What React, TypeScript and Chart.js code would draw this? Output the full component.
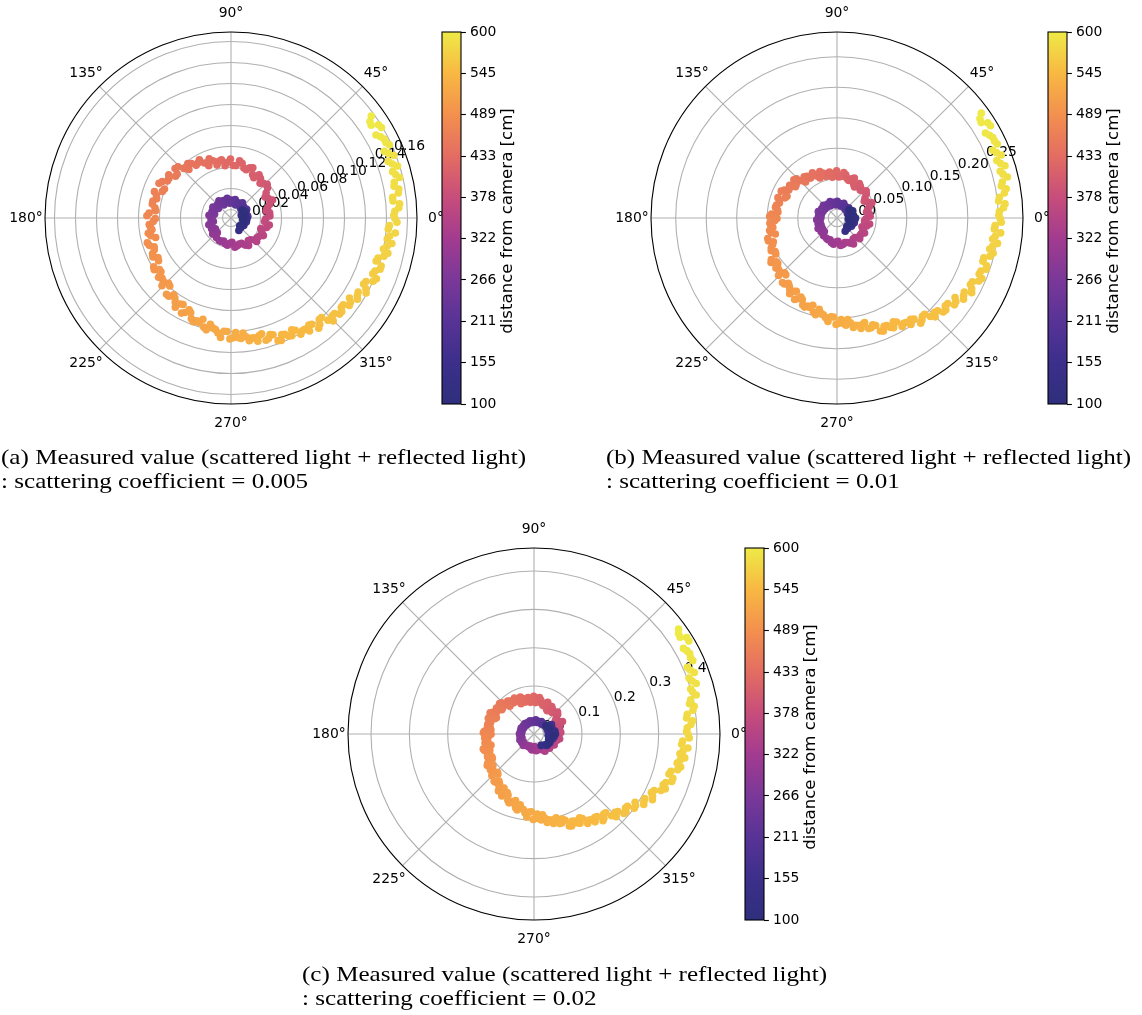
import React, { useEffect, useLayoutEffect, useRef } from "react";
import { Chart, registerables } from "chart.js";

Chart.register(...registerables);

const SANS = '"DejaVu Sans", Verdana, sans-serif';
const SERIF = '"Liberation Serif", "Times New Roman", serif';

// ---- data: angle / distance of each measured point (shared by the panels), radius per panel ----
const angleDeg = [
  36, 33.5, 31, 28.5, 26, 23.5, 21, 18.5, 16, 13.5,
  11, 8.5, 6, 3.5, 1, 358.5, 356, 353.5, 351, 348.5,
  346, 343.5, 341, 338.5, 336, 333.5, 331, 328.5, 326, 323.5,
  321, 318.5, 316, 313.5, 311, 308.5, 306, 303.5, 301, 298.5,
  296, 293.5, 291, 288.5, 286, 283.5, 281, 278.5, 276, 273.5,
  271, 268, 265, 262, 259, 256, 253, 250, 247, 244,
  241, 238, 235, 231.5, 228, 224.5, 221, 217.5, 214, 210.5,
  206.5, 202.5, 198.5, 194.5, 190.5, 186.5, 182.5, 178.5, 174.5, 170,
  165.5, 161, 156.5, 152, 147.5, 143, 138.5, 133.5, 128.5, 123.5,
  118.5, 113, 107.5, 102, 96.5, 90.5, 84.5, 78.5, 72.5, 66.5,
  60.5, 53.5, 46.5, 39.5, 31.5, 23.5, 15.5, 7.5, 358.5, 349.5,
  340.5, 331.5, 322.5, 312.5, 302.5, 292.5, 282.5, 272.5, 262.5, 252.5, 242.5,
  233, 221, 209, 197, 185, 173, 161, 149, 137, 125,
  113, 101, 89, 77, 65, 53, 41, 29, 17, 5,
  20, 345, 30, 330, 8, 315, 25, 352, 302, 15, 338, 0, 323, 35, 355,
];

const distanceCm = [
  600, 599, 597, 596, 594, 593, 591, 590, 589, 587,
  586, 584, 583, 582, 580, 579, 577, 576, 574, 573,
  572, 570, 569, 567, 566, 564, 563, 562, 560, 559,
  557, 556, 554, 553, 552, 550, 549, 547, 546, 545,
  543, 542, 540, 539, 537, 536, 535, 533, 532, 530,
  529, 527, 526, 524, 522, 520, 519, 517, 515, 514,
  512, 510, 508, 506, 504, 502, 500, 498, 496, 494,
  492, 490, 488, 485, 483, 481, 478, 476, 474, 471,
  469, 466, 464, 461, 459, 456, 453, 451, 448, 445,
  442, 439, 436, 433, 430, 426, 423, 419, 416, 413,
  409, 405, 401, 397, 393, 388, 384, 379, 374, 369,
  364, 359, 353, 348, 342, 336, 331, 325, 319, 314, 308,
  303, 297, 291, 285, 279, 273, 267, 261, 255, 249,
  243, 237, 231, 225, 219, 213, 207, 201, 195, 189,
  184, 178, 172, 166, 160, 154, 148, 142, 136, 130, 124, 118, 112, 106, 100,
];

const radiusA = [
  0.157, 0.152, 0.159, 0.154, 0.156, 0.151, 0.158, 0.154, 0.152, 0.157,
  0.150, 0.153, 0.147, 0.152, 0.147, 0.150, 0.142, 0.144, 0.147, 0.140,
  0.142, 0.136, 0.142, 0.137, 0.140, 0.133, 0.139, 0.133, 0.128, 0.132,
  0.127, 0.130, 0.126, 0.126, 0.120, 0.126, 0.118, 0.119, 0.121, 0.113,
  0.117, 0.113, 0.117, 0.109, 0.113, 0.107, 0.108, 0.110, 0.102, 0.106,
  0.106, 0.100, 0.106, 0.099, 0.095, 0.099, 0.096, 0.097, 0.090, 0.092,
  0.086, 0.092, 0.085, 0.087, 0.079, 0.084, 0.079, 0.076, 0.080, 0.072,
  0.075, 0.071, 0.074, 0.066, 0.072, 0.069, 0.066, 0.072, 0.064, 0.068,
  0.065, 0.069, 0.061, 0.066, 0.062, 0.058, 0.063, 0.057, 0.058, 0.052,
  0.055, 0.046, 0.049, 0.047, 0.042, 0.048, 0.042, 0.045, 0.040, 0.044,
  0.036, 0.039, 0.037, 0.037, 0.030, 0.035, 0.028, 0.029, 0.025, 0.029,
  0.022, 0.027, 0.023, 0.020, 0.023, 0.018, 0.019, 0.015, 0.018, 0.015, 0.016,
  0.015, 0.015, 0.013, 0.014, 0.011, 0.013, 0.011, 0.012, 0.010, 0.012,
  0.010, 0.011, 0.009, 0.010, 0.008, 0.010, 0.008, 0.009, 0.007, 0.008,
  0.005, 0.007, 0.004, 0.006, 0.003, 0.005, 0.007, 0.004, 0.006, 0.002, 0.005, 0.006, 0.004, 0.005, 0.003,
];

const radiusB = [
  0.278, 0.269, 0.279, 0.270, 0.273, 0.264, 0.274, 0.268, 0.264, 0.273,
  0.260, 0.263, 0.252, 0.259, 0.251, 0.255, 0.244, 0.247, 0.252, 0.241,
  0.244, 0.235, 0.244, 0.236, 0.240, 0.230, 0.238, 0.229, 0.219, 0.225,
  0.214, 0.218, 0.208, 0.208, 0.199, 0.206, 0.191, 0.191, 0.193, 0.179,
  0.185, 0.179, 0.184, 0.170, 0.174, 0.165, 0.165, 0.167, 0.153, 0.159,
  0.158, 0.148, 0.156, 0.146, 0.138, 0.145, 0.139, 0.141, 0.131, 0.133,
  0.123, 0.132, 0.122, 0.124, 0.111, 0.120, 0.113, 0.108, 0.116, 0.102,
  0.106, 0.100, 0.104, 0.090, 0.098, 0.093, 0.088, 0.096, 0.083, 0.088,
  0.083, 0.088, 0.075, 0.083, 0.078, 0.071, 0.080, 0.070, 0.072, 0.064,
  0.070, 0.057, 0.063, 0.060, 0.053, 0.063, 0.054, 0.058, 0.050, 0.057,
  0.044, 0.050, 0.047, 0.048, 0.038, 0.048, 0.038, 0.039, 0.033, 0.040,
  0.029, 0.037, 0.033, 0.029, 0.036, 0.029, 0.030, 0.024, 0.029, 0.023, 0.023,
  0.022, 0.020, 0.021, 0.018, 0.019, 0.016, 0.018, 0.015, 0.016, 0.013,
  0.015, 0.012, 0.013, 0.010, 0.012, 0.009, 0.011, 0.008, 0.009, 0.007,
  0.012, 0.015, 0.008, 0.013, 0.006, 0.010, 0.014, 0.009, 0.011, 0.005, 0.012, 0.016, 0.007, 0.010, 0.004,
];

const radiusC = [
  0.441, 0.432, 0.446, 0.429, 0.429, 0.411, 0.423, 0.410, 0.400, 0.410,
  0.388, 0.394, 0.375, 0.385, 0.373, 0.380, 0.361, 0.366, 0.373, 0.356,
  0.361, 0.342, 0.355, 0.337, 0.337, 0.317, 0.328, 0.311, 0.293, 0.300,
  0.282, 0.288, 0.269, 0.269, 0.252, 0.264, 0.244, 0.243, 0.247, 0.224,
  0.233, 0.223, 0.232, 0.209, 0.218, 0.204, 0.204, 0.208, 0.187, 0.196,
  0.195, 0.178, 0.192, 0.174, 0.163, 0.173, 0.163, 0.166, 0.148, 0.152,
  0.136, 0.150, 0.132, 0.136, 0.116, 0.129, 0.118, 0.110, 0.122, 0.101,
  0.110, 0.101, 0.111, 0.091, 0.105, 0.099, 0.093, 0.107, 0.088, 0.098,
  0.092, 0.101, 0.082, 0.096, 0.090, 0.080, 0.095, 0.080, 0.085, 0.072,
  0.082, 0.061, 0.072, 0.067, 0.058, 0.073, 0.059, 0.065, 0.053, 0.065,
  0.045, 0.056, 0.052, 0.055, 0.040, 0.056, 0.041, 0.043, 0.033, 0.043,
  0.025, 0.035, 0.027, 0.018, 0.028, 0.014, 0.018, 0.008, 0.017, 0.008, 0.010,
  0.012, 0.010, 0.011, 0.008, 0.009, 0.007, 0.008, 0.006, 0.007, 0.005,
  0.007, 0.005, 0.008, 0.006, 0.009, 0.007, 0.010, 0.012, 0.011, 0.013,
  0.020, 0.025, 0.012, 0.022, 0.030, 0.015, 0.018, 0.028, 0.010, 0.024, 0.016, 0.031, 0.019, 0.013, 0.026,
];

// second pass of points read between the ones above (fills the band)
const angleDeg2 = [
  34.8, 32.3, 29.8, 27.3, 24.8, 22.3, 19.8, 17.3, 14.8, 12.3,
  9.8, 7.3, 4.8, 2.3, 359.8, 357.3, 354.8, 352.3, 349.8, 347.3,
  344.8, 342.3, 339.8, 337.3, 334.8, 332.3, 329.8, 327.3, 324.8, 322.3,
  319.8, 317.3, 314.8, 312.3, 309.8, 307.3, 304.8, 302.3, 299.8, 297.3,
  294.8, 292.3, 289.8, 287.3, 284.8, 282.3, 279.8, 277.3, 274.8, 272.3,
  269.5, 266.5, 263.5, 260.5, 257.5, 254.5, 251.5, 248.5, 245.5, 242.5,
  239.5, 236.5, 233.3, 229.8, 226.3, 222.8, 219.3, 215.8, 212.3, 208.5,
  204.5, 200.5, 196.5, 192.5, 188.5, 184.5, 180.5, 176.5, 172.3, 167.8,
  163.3, 158.8, 154.3, 149.8, 145.3, 140.8, 136, 131, 126, 121,
  115.8, 110.3, 104.8, 99.3, 93.5, 87.5, 81.5, 75.5, 69.5, 63.5,
  57, 50, 43, 35.5, 27.5, 19.5, 11.5, 3, 354, 345,
  336, 327, 317.5, 307.5, 297.5, 287.5, 277.5, 267.5, 257.5, 247.5,
  227, 215, 203, 191, 179, 167, 155, 143, 131, 119, 107, 95, 83, 71, 59, 47, 35, 23, 11,
  10, 340, 28, 318, 355, 5, 335, 22,
];

const distanceCm2 = [
  599.5, 598, 596.5, 595, 593.5, 592, 590.5, 589.5, 588, 586.5,
  585, 583.5, 582.5, 581, 579.5, 578, 576.5, 575, 573.5, 572.5,
  571, 569.5, 568, 566.5, 565, 563.5, 562.5, 561, 559.5, 558,
  556.5, 555, 553.5, 552.5, 551, 549.5, 548, 546.5, 545.5, 544,
  542.5, 541, 539.5, 538, 536.5, 535.5, 534, 532.5, 531, 529.5,
  528, 526.5, 525, 523, 521, 519.5, 518, 516, 514.5, 513,
  511, 509, 507, 505, 503, 501, 499, 497, 495, 493,
  491, 489, 486.5, 484, 482, 479.5, 477, 475, 472.5, 470,
  467.5, 465, 462.5, 460, 457.5, 454.5, 452, 449.5, 446.5, 443.5,
  440.5, 437.5, 434.5, 431.5, 428, 424.5, 421, 417.5, 414.5, 411,
  407, 403, 399, 395, 390.5, 386, 381.5, 376.5, 371.5, 366.5,
  361.5, 356, 350.5, 345, 339, 333.5, 328, 322, 316.5, 311,
  300, 294, 288, 282, 276, 270, 264, 258, 252, 246, 240, 234, 228, 222, 216, 210, 204, 198, 192,
  181, 169, 157, 145, 133, 121, 109, 103,
];

const radiusA2 = [
  0.153, 0.158, 0.151, 0.156, 0.158, 0.154, 0.151, 0.158, 0.154, 0.151,
  0.154, 0.147, 0.153, 0.148, 0.148, 0.143, 0.149, 0.142, 0.143, 0.145,
  0.137, 0.142, 0.138, 0.142, 0.134, 0.137, 0.132, 0.135, 0.131, 0.127,
  0.130, 0.126, 0.130, 0.120, 0.124, 0.119, 0.123, 0.119, 0.115, 0.118,
  0.114, 0.118, 0.110, 0.112, 0.106, 0.112, 0.108, 0.106, 0.107, 0.101,
  0.107, 0.100, 0.102, 0.098, 0.101, 0.092, 0.095, 0.095, 0.088, 0.094,
  0.087, 0.088, 0.083, 0.087, 0.078, 0.080, 0.081, 0.076, 0.079, 0.071,
  0.074, 0.070, 0.075, 0.070, 0.068, 0.070, 0.064, 0.070, 0.065, 0.068,
  0.066, 0.062, 0.068, 0.062, 0.064, 0.058, 0.062, 0.053, 0.056, 0.053,
  0.050, 0.052, 0.044, 0.048, 0.045, 0.042, 0.047, 0.041, 0.043, 0.038,
  0.041, 0.035, 0.039, 0.033, 0.032, 0.031, 0.026, 0.029, 0.024, 0.027,
  0.024, 0.024, 0.025, 0.019, 0.021, 0.018, 0.020, 0.016, 0.017, 0.016,
  0.011, 0.010, 0.012, 0.009, 0.010, 0.008, 0.009, 0.007, 0.008, 0.006, 0.008, 0.006, 0.007, 0.005, 0.007, 0.005, 0.006, 0.004, 0.005,
  0.006, 0.004, 0.006, 0.003, 0.007, 0.004, 0.005, 0.006,
];

const radiusB2 = [
  0.271, 0.278, 0.266, 0.273, 0.275, 0.268, 0.264, 0.274, 0.267, 0.263,
  0.267, 0.254, 0.262, 0.252, 0.253, 0.245, 0.255, 0.243, 0.245, 0.248,
  0.235, 0.243, 0.237, 0.243, 0.231, 0.235, 0.227, 0.232, 0.224, 0.215,
  0.219, 0.210, 0.214, 0.199, 0.203, 0.194, 0.198, 0.190, 0.182, 0.188,
  0.180, 0.186, 0.173, 0.174, 0.163, 0.171, 0.164, 0.159, 0.162, 0.152,
  0.160, 0.148, 0.150, 0.144, 0.148, 0.134, 0.138, 0.139, 0.128, 0.136,
  0.125, 0.126, 0.119, 0.124, 0.110, 0.114, 0.115, 0.108, 0.113, 0.101,
  0.104, 0.097, 0.104, 0.096, 0.092, 0.096, 0.084, 0.093, 0.084, 0.087,
  0.084, 0.077, 0.087, 0.077, 0.080, 0.072, 0.078, 0.064, 0.070, 0.066,
  0.062, 0.067, 0.056, 0.062, 0.058, 0.053, 0.061, 0.052, 0.054, 0.047,
  0.053, 0.045, 0.051, 0.042, 0.042, 0.042, 0.035, 0.040, 0.031, 0.036,
  0.032, 0.033, 0.036, 0.029, 0.032, 0.028, 0.031, 0.025, 0.027, 0.024,
  0.016, 0.015, 0.014, 0.014, 0.012, 0.012, 0.011, 0.010, 0.010, 0.008, 0.009, 0.007, 0.008, 0.006, 0.007, 0.005, 0.006, 0.004, 0.005,
  0.009, 0.013, 0.011, 0.007, 0.015, 0.011, 0.008, 0.013,
];

const radiusC2 = [
  0.434, 0.446, 0.424, 0.432, 0.431, 0.415, 0.405, 0.418, 0.403, 0.393,
  0.399, 0.378, 0.390, 0.375, 0.377, 0.363, 0.378, 0.359, 0.362, 0.367,
  0.345, 0.355, 0.341, 0.346, 0.321, 0.324, 0.309, 0.315, 0.299, 0.283,
  0.289, 0.273, 0.279, 0.253, 0.260, 0.246, 0.254, 0.241, 0.229, 0.237,
  0.225, 0.234, 0.214, 0.218, 0.201, 0.214, 0.202, 0.196, 0.200, 0.184,
  0.198, 0.179, 0.182, 0.172, 0.178, 0.155, 0.161, 0.161, 0.143, 0.157,
  0.139, 0.140, 0.128, 0.136, 0.113, 0.120, 0.122, 0.111, 0.118, 0.100,
  0.108, 0.098, 0.113, 0.101, 0.097, 0.104, 0.087, 0.104, 0.090, 0.098,
  0.094, 0.085, 0.102, 0.088, 0.094, 0.081, 0.092, 0.071, 0.081, 0.076,
  0.070, 0.078, 0.061, 0.071, 0.064, 0.057, 0.071, 0.057, 0.060, 0.048,
  0.060, 0.048, 0.059, 0.046, 0.047, 0.047, 0.037, 0.045, 0.029, 0.037,
  0.029, 0.028, 0.030, 0.016, 0.021, 0.013, 0.019, 0.010, 0.014, 0.011,
  0.016, 0.014, 0.015, 0.012, 0.013, 0.011, 0.012, 0.010, 0.011, 0.009, 0.011, 0.009, 0.012, 0.010, 0.013, 0.011, 0.014, 0.015, 0.016,
  0.022, 0.017, 0.027, 0.020, 0.012, 0.028, 0.021, 0.016,
];

// ---- axes / ticks ----
const thetaTickDeg = [0, 45, 90, 135, 180, 225, 270, 315];
const thetaTickLabels = ["0°", "45°", "90°", "135°", "180°", "225°", "270°", "315°"];

const rTicksA = [0, 0.02, 0.04, 0.06, 0.08, 0.1, 0.12, 0.14, 0.16];
const rTickLabelsA = ["0.00", "0.02", "0.04", "0.06", "0.08", "0.10", "0.12", "0.14", "0.16"];
const rTicksB = [0, 0.05, 0.1, 0.15, 0.2, 0.25];
const rTickLabelsB = ["0.00", "0.05", "0.10", "0.15", "0.20", "0.25"];
const rTicksC = [0, 0.1, 0.2, 0.3, 0.4];
const rTickLabelsC = ["0.0", "0.1", "0.2", "0.3", "0.4"];
const rLimitsA = [-0.0081, 0.169];
const rLimitsB = [-0.0144, 0.2905];
const rLimitsC = [-0.025, 0.46];

const colorbarRange = [100, 600];
const colorbarTicks = [100, 155.56, 211.11, 266.67, 322.22, 377.78, 433.33, 488.89, 544.44, 600];
const colorbarTickLabels = ["100", "155", "211", "266", "322", "378", "433", "489", "545", "600"];
const colorbarTitle = "distance from camera [cm]";

const captionA = ["(a) Measured value (scattered light + reflected light)", ": scattering coefficient = 0.005"];
const captionB = ["(b) Measured value (scattered light + reflected light)", ": scattering coefficient = 0.01"];
const captionC = ["(c) Measured value (scattered light + reflected light)", ": scattering coefficient = 0.02"];

// ---- style ----
const cmapStops: [number, string][] = [
  [0.0, "#2e2f7c"],
  [0.111, "#3c2f8b"],
  [0.222, "#573396"],
  [0.333, "#7a3899"],
  [0.444, "#a23b90"],
  [0.556, "#c74d7b"],
  [0.667, "#e36d62"],
  [0.778, "#f3904e"],
  [0.889, "#f8b842"],
  [1.0, "#eeea47"],
];

function hexRgb(h: string) {
  const n = parseInt(h.slice(1), 16);
  return [(n >> 16) & 255, (n >> 8) & 255, n & 255];
}
function cmap(t: number) {
  t = Math.max(0, Math.min(1, t));
  for (let i = 1; i < cmapStops.length; i++) {
    const [t1, c1] = cmapStops[i];
    const [t0, c0] = cmapStops[i - 1];
    if (t <= t1) {
      const f = (t - t0) / (t1 - t0);
      const a = hexRgb(c0), b = hexRgb(c1);
      const c = a.map((v, k) => Math.round(v + (b[k] - v) * f));
      return `rgb(${c[0]},${c[1]},${c[2]})`;
    }
  }
  return cmapStops[cmapStops.length - 1][1];
}

const R = 186;
const HALF = 232;
const CAPTION_WIDTH = 525;
const DOT_RADIUS = 3.8;

const PANELS = [
  { cx: 231, cy: 218, radius: radiusA, radius2: radiusA2, lim: rLimitsA, ticks: rTicksA, labels: rTickLabelsA, caption: captionA, capLeft: 1, capTop: 445 },
  { cx: 837, cy: 218, radius: radiusB, radius2: radiusB2, lim: rLimitsB, ticks: rTicksB, labels: rTickLabelsB, caption: captionB, capLeft: 606, capTop: 445 },
  { cx: 534, cy: 734, radius: radiusC, radius2: radiusC2, lim: rLimitsC, ticks: rTicksC, labels: rTickLabelsC, caption: captionC, capLeft: 302, capTop: 962 },
];

const polarAxesPlugin = {
  id: "polarAxes",
  beforeDatasetsDraw(chart: any, _args: any, opts: any) {
    const { ctx } = chart;
    const xs = chart.scales.x, ys = chart.scales.y;
    const rmin = opts.rmin, rmax = opts.rmax;
    const span = rmax - rmin;
    const cx = xs.getPixelForValue(0), cy = ys.getPixelForValue(0);
    const rad = (v: number) => xs.getPixelForValue(v - rmin) - cx;
    ctx.save();
    ctx.strokeStyle = "#b0b0b0";
    ctx.lineWidth = 1.1;
    opts.ticks.forEach((v: number) => {
      ctx.beginPath();
      ctx.arc(cx, cy, rad(v), 0, Math.PI * 2);
      ctx.stroke();
    });
    thetaTickDeg.forEach((d) => {
      const a = (d * Math.PI) / 180;
      ctx.beginPath();
      ctx.moveTo(cx, cy);
      ctx.lineTo(xs.getPixelForValue(span * Math.cos(a)), ys.getPixelForValue(span * Math.sin(a)));
      ctx.stroke();
    });
    const Rp = rad(rmax);
    ctx.fillStyle = "#000";
    ctx.font = `13.9px ${SANS}`;
    ctx.textAlign = "center";
    ctx.textBaseline = "middle";
    thetaTickDeg.forEach((d, i) => {
      const a = (d * Math.PI) / 180;
      ctx.fillText(thetaTickLabels[i], cx + (Rp + 19) * Math.cos(a), cy - (Rp + 19) * Math.sin(a));
    });
    ctx.textAlign = "left";
    ctx.textBaseline = "alphabetic";
    const la = (22.5 * Math.PI) / 180;
    opts.ticks.forEach((v: number, i: number) => {
      const r = rad(v);
      ctx.fillText(opts.labels[i], cx + r * Math.cos(la), cy - r * Math.sin(la));
    });
    ctx.restore();
  },
  afterDatasetsDraw(chart: any, _args: any, opts: any) {
    const { ctx } = chart;
    const xs = chart.scales.x, ys = chart.scales.y;
    const cx = xs.getPixelForValue(0), cy = ys.getPixelForValue(0);
    const Rp = xs.getPixelForValue(opts.rmax - opts.rmin) - cx;
    ctx.save();
    ctx.strokeStyle = "#000";
    ctx.lineWidth = 1.1;
    ctx.beginPath();
    ctx.arc(cx, cy, Rp, 0, Math.PI * 2);
    ctx.stroke();
    ctx.restore();
  },
};

const colorbarPlugin = {
  id: "cbar",
  beforeDatasetsDraw(chart: any) {
    const { ctx, chartArea: a } = chart;
    const ys = chart.scales.y;
    const g = ctx.createLinearGradient(0, ys.getPixelForValue(colorbarRange[0]), 0, ys.getPixelForValue(colorbarRange[1]));
    cmapStops.forEach(([t, c]) => g.addColorStop(t, c));
    ctx.save();
    ctx.fillStyle = g;
    ctx.fillRect(a.left, a.top, a.right - a.left, a.bottom - a.top);
    ctx.strokeStyle = "#000";
    ctx.lineWidth = 1.1;
    ctx.strokeRect(a.left, a.top, a.right - a.left, a.bottom - a.top);
    ctx.restore();
  },
  afterDraw(chart: any) {
    const { ctx, chartArea: a } = chart;
    ctx.save();
    ctx.translate(a.right + 47, (a.top + a.bottom) / 2 + 3);
    ctx.rotate(-Math.PI / 2);
    ctx.fillStyle = "#000";
    ctx.font = `16.6px ${SANS}`;
    ctx.textAlign = "center";
    ctx.textBaseline = "middle";
    ctx.fillText(colorbarTitle, 0, 0);
    ctx.restore();
  },
};

function makePolar(canvas: HTMLCanvasElement, p: any) {
  const [rmin, rmax] = p.lim;
  const span = rmax - rmin;
  const all: { a: number; d: number; r: number }[] = [];
  const n1 = Math.min(angleDeg.length, distanceCm.length, p.radius.length);
  for (let i = 0; i < n1; i++) all.push({ a: angleDeg[i], d: distanceCm[i], r: p.radius[i] });
  const n2 = Math.min(angleDeg2.length, distanceCm2.length, p.radius2.length);
  for (let i = 0; i < n2; i++) all.push({ a: angleDeg2[i], d: distanceCm2[i], r: p.radius2[i] });
  all.sort((u, v) => v.d - u.d);
  const pts = all.map((q) => {
    const rho = q.r - rmin;
    const t = (q.a * Math.PI) / 180;
    return { x: rho * Math.cos(t), y: rho * Math.sin(t) };
  });
  const colors = all.map((q) => cmap((q.d - colorbarRange[0]) / (colorbarRange[1] - colorbarRange[0])));
  return new Chart(canvas, {
    type: "scatter",
    data: {
      datasets: [
        {
          data: pts,
          backgroundColor: colors,
          borderColor: colors,
          borderWidth: 0,
          pointRadius: DOT_RADIUS,
          pointHoverRadius: DOT_RADIUS,
        },
      ],
    },
    options: {
      responsive: false,
      animation: false,
      events: [],
      devicePixelRatio: 1,
      layout: { padding: HALF - R },
      scales: {
        x: { type: "linear", display: false, min: -span, max: span },
        y: { type: "linear", display: false, min: -span, max: span },
      },
      plugins: {
        legend: { display: false },
        tooltip: { enabled: false },
        polarAxes: { rmin, rmax, ticks: p.ticks, labels: p.labels },
      },
    } as any,
    plugins: [polarAxesPlugin],
  });
}

function makeColorbar(canvas: HTMLCanvasElement) {
  return new Chart(canvas, {
    type: "scatter",
    data: { datasets: [] },
    options: {
      responsive: false,
      animation: false,
      events: [],
      devicePixelRatio: 1,
      layout: { padding: { left: 5, top: HALF - R, bottom: HALF - R, right: 31 } },
      scales: {
        x: { type: "linear", display: false, min: 0, max: 1 },
        y: {
          type: "linear",
          position: "right",
          min: colorbarRange[0],
          max: colorbarRange[1],
          afterBuildTicks: (s: any) => {
            s.ticks = colorbarTicks.map((v) => ({ value: v }));
          },
          afterFit: (s: any) => {
            s.width = 45;
            s.paddingTop = 0;
            s.paddingBottom = 0;
          },
          ticks: {
            callback: (_v: any, i: number) => colorbarTickLabels[i],
            color: "#000",
            font: { family: SANS, size: 13.9 },
            padding: 4,
            autoSkip: false,
            maxRotation: 0,
          },
          grid: {
            display: true,
            drawOnChartArea: false,
            drawTicks: true,
            tickLength: 4.9,
            tickWidth: 1.1,
            tickColor: "#000",
          },
          border: { display: false },
        },
      },
      plugins: { legend: { display: false }, tooltip: { enabled: false } },
    } as any,
    plugins: [colorbarPlugin],
  });
}

function Caption({ left, top, lines }: { left: number; top: number; lines: string[] }) {
  const r1 = useRef<HTMLSpanElement>(null);
  const r2 = useRef<HTMLSpanElement>(null);
  useLayoutEffect(() => {
    if (!r1.current || !r2.current) return;
    const w = r1.current.getBoundingClientRect().width;
    const s = w > 0 ? CAPTION_WIDTH / w : 1;
    r1.current.style.transform = `scaleX(${s})`;
    r2.current.style.transform = `scaleX(${s})`;
  }, []);
  const span: React.CSSProperties = { display: "inline-block", transformOrigin: "0 0" };
  return (
    <div
      style={{
        position: "absolute",
        left,
        top,
        fontFamily: SERIF,
        fontSize: 21,
        lineHeight: "24px",
        color: "#000",
        whiteSpace: "nowrap",
      }}
    >
      <span ref={r1} style={span}>{lines[0]}</span>
      <br />
      <span ref={r2} style={span}>{lines[1]}</span>
    </div>
  );
}

export default function App() {
  const p0 = useRef<HTMLCanvasElement>(null);
  const p1 = useRef<HTMLCanvasElement>(null);
  const p2 = useRef<HTMLCanvasElement>(null);
  const c0 = useRef<HTMLCanvasElement>(null);
  const c1 = useRef<HTMLCanvasElement>(null);
  const c2 = useRef<HTMLCanvasElement>(null);
  const polarRefs = [p0, p1, p2];
  const cbRefs = [c0, c1, c2];

  useEffect(() => {
    const charts: Chart[] = [];
    PANELS.forEach((p, i) => {
      const pc = polarRefs[i].current;
      const cc = cbRefs[i].current;
      if (pc) charts.push(makePolar(pc, p));
      if (cc) charts.push(makeColorbar(cc));
    });
    return () => charts.forEach((c) => c.destroy());
  }, []);

  return (
    <div style={{ position: "absolute", left: 0, top: 0, width: 1142, height: 1015, background: "#fff", overflow: "hidden" }}>
      {PANELS.map((p, i) => (
        <React.Fragment key={i}>
          <canvas
            ref={polarRefs[i]}
            width={HALF * 2}
            height={HALF * 2}
            style={{ position: "absolute", left: p.cx - HALF, top: p.cy - HALF, width: HALF * 2, height: HALF * 2 }}
          />
          <canvas
            ref={cbRefs[i]}
            width={100}
            height={HALF * 2}
            style={{ position: "absolute", left: p.cx + 211 - 5, top: p.cy - HALF, width: 100, height: HALF * 2 }}
          />
          <Caption left={p.capLeft} top={p.capTop} lines={p.caption} />
        </React.Fragment>
      ))}
    </div>
  );
}
